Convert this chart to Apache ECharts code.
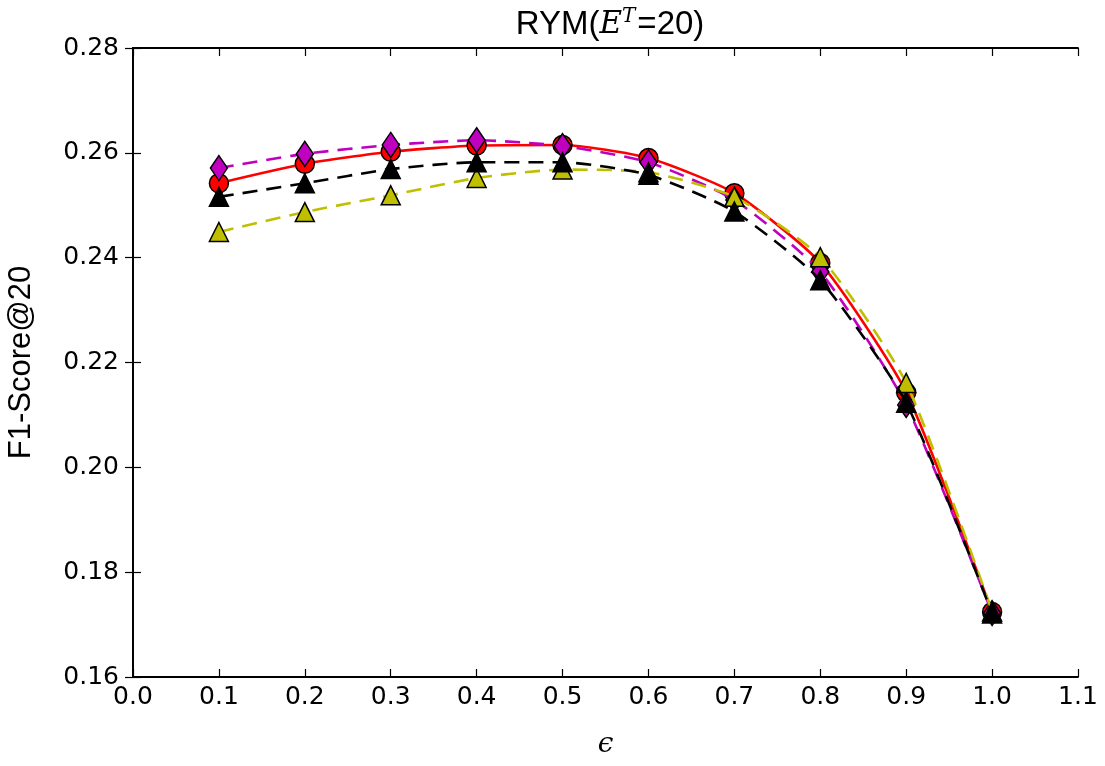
<!DOCTYPE html>
<html>
<head>
<meta charset="utf-8">
<script src="https://cdn.jsdelivr.net/npm/echarts@6/dist/echarts.min.js"></script>
<style>
  html, body { margin: 0; padding: 0; background: #fff; }
  #main { width: 1105px; height: 766px; }
</style>
</head>
<body>
<div id="main"></div>
<script>
// x values (epsilon)
var eps = [0.1, 0.2, 0.3, 0.4, 0.5, 0.6, 0.7, 0.8, 0.9, 1.0];
// series values
var redCircle = [0.2542, 0.2579, 0.2602, 0.2614, 0.2615, 0.2590, 0.2523, 0.2390, 0.2143, 0.1724];
var magentaDiamond = [0.2571, 0.2598, 0.2615, 0.2624, 0.2613, 0.2582, 0.2510, 0.2373, 0.2119, 0.1722];
var blackTriangle = [0.2516, 0.2542, 0.2569, 0.2582, 0.2582, 0.2558, 0.2488, 0.2357, 0.2123, 0.1721];
var yellowTriangle = [0.2449, 0.2487, 0.2519, 0.2552, 0.2568, 0.2563, 0.2516, 0.2401, 0.2161, 0.1725];

function pairs(ys) {
    return eps.map(function (x, i) { return [x, ys[i]]; });
}

var chart = echarts.init(document.getElementById('main'));

var font = 'Liberation Sans, Arial, sans-serif';
var tickFont = 'DejaVu Sans, sans-serif';

function mk(name, ys, color, symbol, dashed, z) {
    return {
        name: name,
        type: 'line',
        data: pairs(ys),
        smooth: 0.2,
        symbol: symbol,
        symbolSize: symbol === 'diamond' ? [17, 25] : 19,
        z: z,
        lineStyle: { color: color, width: 2.6, type: dashed ? [15, 9] : 'solid' },
        itemStyle: { color: color, borderColor: '#000', borderWidth: 1.5 },
        emphasis: { disabled: true },
        animation: false
    };
}

var tickStyle = { show: true, inside: true, length: 8, lineStyle: { color: '#000', width: 1.2 } };
var lineStyle = { show: true, lineStyle: { color: '#000', width: 1.8 } };

chart.setOption({
    title: {
        text: '{n|RYM(}{e|E}{s|T}{n|=20)}',
        left: 605,
        textAlign: 'center',
        top: 2,
        textStyle: {
            fontWeight: 'normal',
            rich: {
                n: { fontFamily: font, fontSize: 33, fontWeight: 'normal', color: '#000' },
                e: { fontFamily: 'DejaVu Serif, serif', fontStyle: 'italic', fontWeight: 'normal', fontSize: 31, color: '#000' },
                s: { fontFamily: 'DejaVu Serif, serif', fontStyle: 'italic', fontWeight: 'normal', fontSize: 20, color: '#000', verticalAlign: 'top', padding: [0, 2, 16, 0] }
            }
        }
    },
    grid: { left: 133, right: 27, top: 48, bottom: 89, containLabel: false, outerBoundsMode: 'none' },
    xAxis: [{
        type: 'value', min: 0, max: 1.1, interval: 0.1,
        name: 'ϵ', nameLocation: 'middle', nameGap: 54,
        nameTextStyle: { fontFamily: 'DejaVu Serif, serif', fontStyle: 'italic', fontSize: 28, color: '#000' },
        axisLine: lineStyle, axisTick: tickStyle, splitLine: { show: false },
        axisLabel: { fontFamily: tickFont, fontSize: 25, color: '#000', margin: 8,
            formatter: function (v) { return v.toFixed(1); } }
    }, {
        type: 'value', position: 'top', min: 0, max: 1.1, interval: 0.1,
        axisLine: lineStyle, axisTick: tickStyle, axisLabel: { show: false }, splitLine: { show: false }
    }],
    yAxis: [{
        type: 'value', min: 0.16, max: 0.28, interval: 0.02,
        name: 'F1-Score@20', nameLocation: 'middle', nameGap: 96,
        nameTextStyle: { fontFamily: font, fontSize: 31, color: '#000' },
        axisLine: lineStyle, axisTick: tickStyle, splitLine: { show: false },
        axisLabel: { fontFamily: tickFont, fontSize: 25, color: '#000', margin: 14,
            formatter: function (v) { return v.toFixed(2); } }
    }, {
        type: 'value', position: 'right', min: 0.16, max: 0.28, interval: 0.02,
        axisLine: lineStyle, axisTick: tickStyle, axisLabel: { show: false }, splitLine: { show: false }
    }],
    series: [
        mk('red', redCircle, '#ff0000', 'circle', false, 2),
        mk('magenta', magentaDiamond, '#bf00bf', 'diamond', true, 3),
        mk('yellow', yellowTriangle, '#bfbf00', 'triangle', true, 4),
        mk('black', blackTriangle, '#000000', 'triangle', true, 5)
    ]
});
</script>
</body>
</html>
